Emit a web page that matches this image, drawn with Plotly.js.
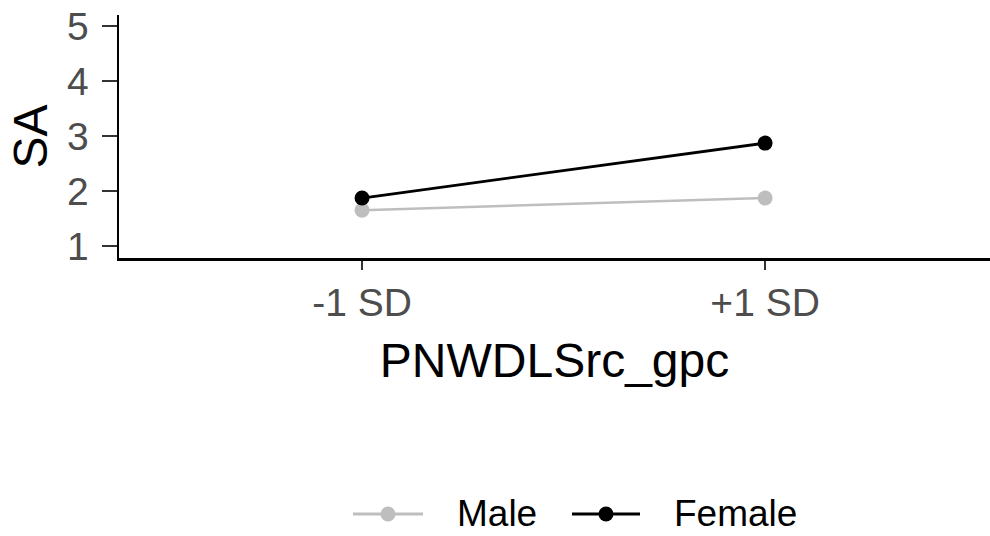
<!DOCTYPE html>
<html>
<head>
<meta charset="utf-8">
<script src="https://cdn.plot.ly/plotly-3.0.1.min.js"></script>
<style>html,body{margin:0;padding:0;background:#fff;}#chart{width:990px;height:536px;}</style>
</head>
<body>
<div id="chart"></div>
<script>
const categories = ["-1 SD", "+1 SD"];
const maleValues = [1.65, 1.87];
const femaleValues = [1.87, 2.87];
const seriesNames = ["Male", "Female"];
const seriesColors = ["#BEBEBE", "#000000"];
const yTicks = [1, 2, 3, 4, 5];

const font = "Liberation Sans, Arial, sans-serif";

const traces = [
  {x: categories, y: maleValues, name: seriesNames[0], type: "scatter", mode: "lines+markers",
   line: {color: seriesColors[0], width: 2.5}, marker: {color: seriesColors[0], size: 15}},
  {x: categories, y: femaleValues, name: seriesNames[1], type: "scatter", mode: "lines+markers",
   line: {color: seriesColors[1], width: 2.8}, marker: {color: seriesColors[1], size: 15}}
];

// plot area in pixels (for the custom legend placed below the plot)
const L = 119, R = 0, T = 15, B = 278, W = 990, H = 536;
const pw = W - L - R, ph = H - T - B;
const px = v => (v - L) / pw;
const py = v => (H - B - v) / ph;

const legendY = 514;
const legendItems = [
  {lineFrom: 353, lineTo: 423, textX: 456},
  {lineFrom: 572, lineTo: 640, textX: 673}
];
const shapes = [];
const annotations = [];
legendItems.forEach((it, i) => {
  const c = seriesColors[i];
  const mid = (it.lineFrom + it.lineTo) / 2;
  shapes.push({type: "line", xref: "paper", yref: "paper", x0: px(it.lineFrom), x1: px(it.lineTo),
    y0: py(legendY), y1: py(legendY), line: {color: c, width: 2.8}});
  shapes.push({type: "circle", xref: "paper", yref: "paper", x0: px(mid - 7.5), x1: px(mid + 7.5),
    y0: py(legendY + 7.5), y1: py(legendY - 7.5), fillcolor: c, line: {color: c, width: 0}});
  annotations.push({text: seriesNames[i], xref: "paper", yref: "paper", x: px(it.textX), y: py(legendY - 1),
    xanchor: "left", yanchor: "middle", showarrow: false, borderpad: 0,
    font: {size: 37, color: "#000", family: font}});
});

const layout = {
  width: W, height: H,
  margin: {l: L, r: R, t: T, b: B},
  paper_bgcolor: "#fff", plot_bgcolor: "#fff",
  font: {family: font, color: "#000"},
  xaxis: {
    type: "category", range: [-0.603, 1.558],
    showline: true, linecolor: "#000", linewidth: 2.5,
    ticks: "outside", ticklen: 9, tickwidth: 2.5, tickcolor: "#333",
    tickfont: {size: 39, color: "#4D4D4D", family: font},
    showgrid: false, zeroline: false,
    title: {text: "PNWDLSrc_gpc", font: {size: 48, color: "#000", family: font}, standoff: 20}
  },
  yaxis: {
    range: [0.78, 5.2], tickvals: yTicks,
    showline: true, linecolor: "#000", linewidth: 2.5,
    ticks: "outside", ticklen: 15, tickwidth: 2.5, tickcolor: "#333",
    tickfont: {size: 39, color: "#4D4D4D", family: font},
    ticklabelstandoff: 5,
    showgrid: false, zeroline: false,
    title: {text: "SA", font: {size: 48, color: "#000", family: font}, standoff: 4}
  },
  showlegend: false,
  shapes: shapes,
  annotations: annotations
};

Plotly.newPlot("chart", traces, layout, {displayModeBar: false, staticPlot: true});
</script>
</body>
</html>
